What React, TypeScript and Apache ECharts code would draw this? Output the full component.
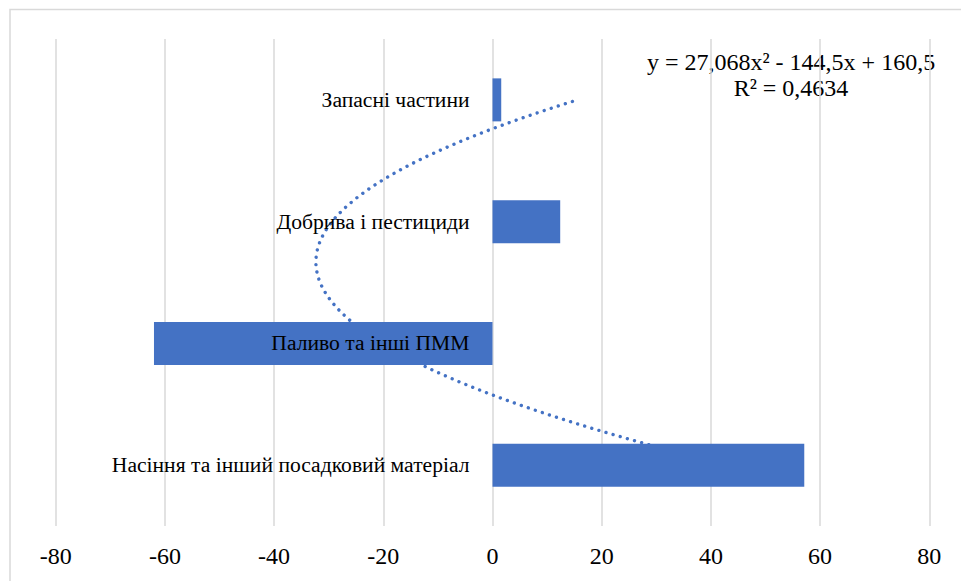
import React, { useEffect, useRef } from "react";
import * as echarts from "echarts";

const categories = [
  "Насіння та інший посадковий матеріал",
  "Паливо та інші ПММ",
  "Добрива і пестициди",
  "Запасні частини",
];
const values = [57.1, -62.0, 12.4, 1.6];
const trendCoefficients = [27.068, -144.5, 160.5];
const trendLabel = ["y = 27,068x² - 144,5x + 160,5", "R² = 0,4634"];
const axisMin = -80;
const axisMax = 80;
const axisInterval = 20;

const BLUE = "#4472C4";
const FONT = "Liberation Serif";
const W = 961;
const H = 581;
const GRID = { left: 55.7, right: 31.7, top: 39, bottom: 55 };

function trendPoints(): number[][] {
  const [a, b, c] = trendCoefficients;
  const pts: number[][] = [];
  const n = 120;
  for (let i = 0; i <= n; i++) {
    const t = 1 + (3 * i) / n;
    pts.push([a * t * t + b * t + c, t]);
  }
  return pts;
}

export default function App() {
  const ref = useRef<HTMLDivElement>(null);
  useEffect(() => {
    if (!ref.current) return;
    const chart = echarts.init(ref.current, undefined, { renderer: "svg" });
    const plotWidth = W - GRID.left - GRID.right;
    const zeroOffset = -((0 - axisMin) / (axisMax - axisMin)) * plotWidth;
    chart.setOption({
      animation: false,
      backgroundColor: "#ffffff",
      grid: {
        ...GRID,
        containLabel: false,
        outerBoundsMode: "none",
      },
      xAxis: {
        type: "value",
        min: axisMin,
        max: axisMax,
        interval: axisInterval,
        axisLine: { show: false },
        axisTick: { show: false },
        splitLine: { show: true, lineStyle: { color: "#d9d9d9", width: 1.5 } },
        axisLabel: { color: "#000", fontFamily: FONT, fontSize: 24, margin: 18 },
      },
      yAxis: [
        {
          type: "category",
          data: categories,
          z: 10,
          position: "left",
          offset: zeroOffset,
          axisLine: { show: false, onZero: false },
          axisTick: { show: false },
          splitLine: { show: false },
          axisLabel: { color: "#000", fontFamily: FONT, fontSize: 21.6, margin: 23 },
        },
        {
          type: "value",
          min: 0.5,
          max: 4.5,
          show: false,
          axisLine: { onZero: false },
          splitLine: { show: false },
        },
      ],
      series: [
        {
          type: "line",
          xAxisIndex: 0,
          yAxisIndex: 1,
          data: trendPoints(),
          showSymbol: false,
          symbol: "none",
          z: 1,
          lineStyle: { color: BLUE, width: 3.4, type: [0.01, 7.4], cap: "round" },
          silent: true,
        },
        {
          type: "bar",
          xAxisIndex: 0,
          yAxisIndex: 0,
          data: values,
          barWidth: 43,
          z: 3,
          itemStyle: { color: BLUE },
        },
      ],
      graphic: [
        {
          type: "rect",
          shape: { x: 10, y: 9.5, width: 1000, height: 700 },
          style: { fill: "none", stroke: "#d9d9d9", lineWidth: 1.5 },
          silent: true,
        },
        {
          type: "text",
          x: 791,
          y: 62,
          style: {
            text: trendLabel[0],
            fill: "#000",
            font: `24px "${FONT}"`,
            align: "center",
            verticalAlign: "middle",
          },
        },
        {
          type: "text",
          x: 791,
          y: 88,
          style: {
            text: trendLabel[1],
            fill: "#000",
            font: `24px "${FONT}"`,
            align: "center",
            verticalAlign: "middle",
          },
        },
      ],
    });
    return () => chart.dispose();
  }, []);
  return (
    <div
      ref={ref}
      style={{ position: "absolute", left: 0, top: 0, width: W, height: H }}
    />
  );
}
